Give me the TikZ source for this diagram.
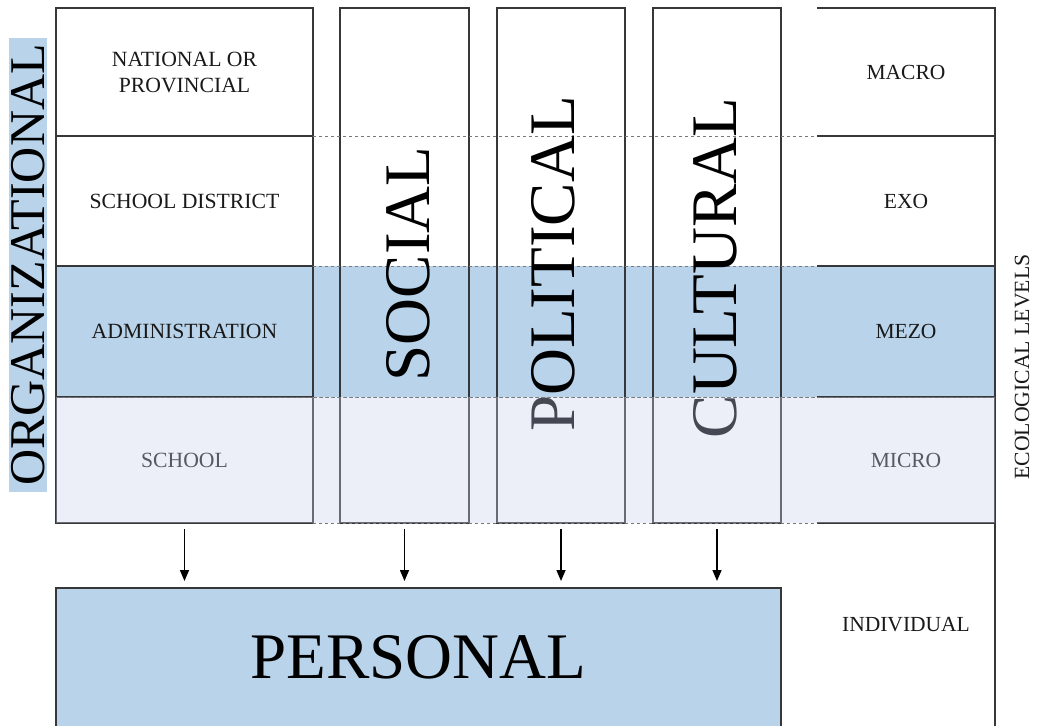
\documentclass[tikz,border=0pt]{standalone}
\usepackage{fontspec}
\setmainfont{Liberation Serif}
\usetikzlibrary{arrows.meta}
\definecolor{bandblue}{RGB}{184,211,234}
\definecolor{microtint}{RGB}{200,207,235}
\definecolor{linecol}{RGB}{55,55,58}
\definecolor{dashcol}{RGB}{120,120,125}
\definecolor{inkcol}{RGB}{25,25,25}
\tikzset{
  frame/.style={draw=linecol, line width=1.4pt},
  cell/.style={frame, anchor=north west, inner sep=0pt, outer sep=0pt,
    minimum width=257pt, text=inkcol, align=center,
    font=\fontsize{21.7}{26}\selectfont},
  levelcell/.style={anchor=north west, inner sep=0pt, outer sep=0pt,
    minimum width=178pt, text=inkcol, font=\fontsize{21.5}{24}\selectfont},
  column/.style={frame, anchor=north west, inner sep=0pt, outer sep=0pt,
    minimum height=515pt},
  bigword/.style={rotate=90, inner sep=0pt, text=black,
    font=\fontsize{65}{70}\selectfont},
  gapline/.style={draw=dashcol, line width=0.9pt, dash pattern=on 3pt off 3pt},
  flow/.style={draw=black, line width=1.5pt,
    -{Triangle[length=11pt,width=9pt]}, shorten <=6pt, shorten >=7pt},
}
\begin{document}
\begin{tikzpicture}[x=1pt,y=-1pt]
  \useasboundingbox (0,0) rectangle (1037,726);

  % mezo band behind the columns
  \fill[bandblue] (56,266) rectangle (995,397);

  % organizational levels
  \node[cell, minimum height=128pt] (national) at (56,8) {NATIONAL OR\\PROVINCIAL};
  \node[cell, minimum height=130pt] (district) at (56,136) {SCHOOL DISTRICT};
  \node[cell, minimum height=131pt] (admin) at (56,266) {ADMINISTRATION};
  \node[cell, minimum height=126pt] (school) at (56,397) {SCHOOL};

  % social, political and cultural columns
  \node[column, minimum width=129pt] (social) at (340,8) {};
  \node[column, minimum width=128pt] (political) at (497,8) {};
  \node[column, minimum width=128pt] (cultural) at (653,8) {};

  % ecological levels
  \node[levelcell, minimum height=128pt] (macro) at (817,8) {MACRO};
  \node[levelcell, minimum height=130pt] (exo) at (817,136) {EXO};
  \node[levelcell, minimum height=131pt] (mezo) at (817,266) {MEZO};
  \node[levelcell, minimum height=126pt] (micro) at (817,397) {MICRO};
  \node[levelcell, minimum height=203pt] (individual) at (817,523) {INDIVIDUAL};
  \draw[frame] (macro.north west) -- (macro.north east) -- (individual.south east);
  \draw[frame] (exo.north west) -- (exo.north east);
  \draw[frame] (mezo.north west) -- (mezo.north east);
  \draw[frame] (micro.north west) -- (micro.north east);
  \draw[frame] (individual.north west) -- (individual.north east);

  % dashed level lines through the gaps
  \foreach \yy in {136,266,397,523}
    \draw[gapline] (313,\yy) -- (817,\yy);

  % column titles
  \node[bigword] (socialtxt) at (408,264) {SOCIAL};
  \node[bigword] (politicaltxt) at (553,264) {POLITICAL};
  \node[bigword] (culturaltxt) at (715,268) {CULTURAL};

  \node[rotate=90, fill=bandblue, inner sep=0pt, minimum width=454pt,
        minimum height=38pt, font=\fontsize{50}{54}\selectfont, text=black]
        (orgtxt) at (28,265) {ORGANIZATIONAL};
  \node[rotate=90, inner sep=0pt, text=inkcol, font=\fontsize{21.7}{24}\selectfont]
        (ecotxt) at (1022,367) {ECOLOGICAL LEVELS};

  % personal level
  \node[anchor=north west, inner sep=0pt, outer sep=0pt, minimum width=725pt,
        minimum height=138pt, fill=bandblue, font=\fontsize{65}{70}\selectfont]
        (personal) at (56,588) {PERSONAL};
  \draw[frame] (personal.south west) -- (personal.north west)
               -- (personal.north east) -- (personal.south east);

  % influences flowing into the personal level
  \draw[flow] (school.south) -- (school.south |- personal.north);
  \draw[flow] (social.south) -- (social.south |- personal.north);
  \draw[flow] (political.south) -- (political.south |- personal.north);
  \draw[flow] (cultural.south) -- (cultural.south |- personal.north);

  % pale tint over the micro row
  \fill[microtint, fill opacity=0.35] (56,397) rectangle (995,523);
  \draw[gapline] (56,397) -- (995,397);
\end{tikzpicture}
\end{document}
